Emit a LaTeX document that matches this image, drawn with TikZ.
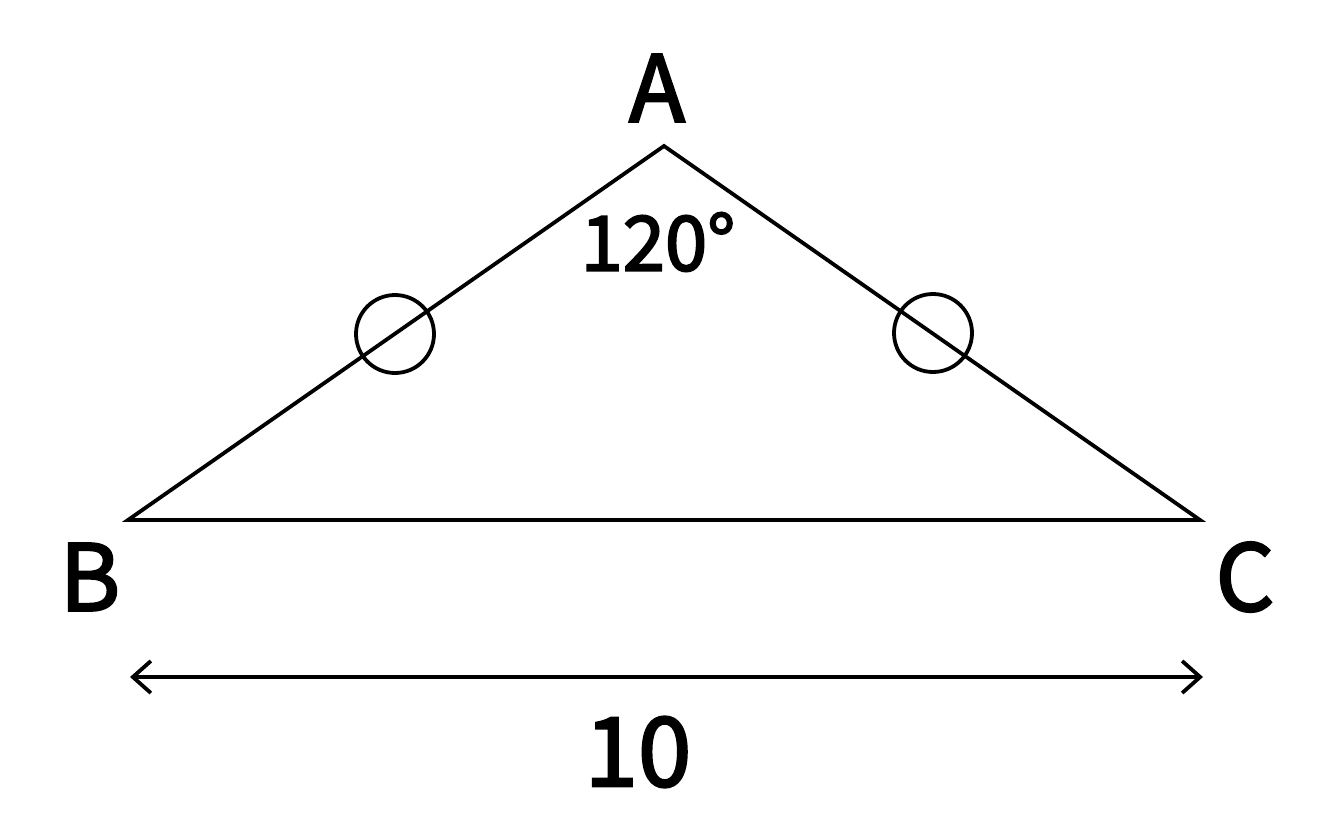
\documentclass[tikz,border=0pt]{standalone}
\usepackage{fontspec}
\newfontfamily\lblfont{Noto Sans CJK JP}[FakeBold=2.5]
\usetikzlibrary{arrows.meta}
\begin{document}
\begin{tikzpicture}[x=1pt,y=-1pt,
  edge/.style={line width=3.8pt},
  lbl/.style={inner sep=0pt, font=\lblfont\fontsize{92}{92}\selectfont},
  tick/.style={circle, draw, line width=3.8pt, minimum size=78pt, inner sep=0pt}]
\useasboundingbox (0,0) rectangle (1333,833);
\coordinate (A) at (664,146);
\coordinate (B) at (128,520);
\coordinate (C) at (1200,520);
\draw[edge] (B) -- (A) -- (C) -- cycle;
\node[tick] (t1) at (395,334) {};
\node[tick] (t2) at (933,333) {};
\node[lbl] (la) at (657,88) {A};
\node[lbl] (lb) at (90,577) {B};
\node[lbl] (lc) at (1245,577) {C};
\node[lbl, font=\lblfont\fontsize{76}{76}\selectfont] (ang) at (658,242) {120°};
\coordinate (d1) at (130,677);
\coordinate (d2) at (1203,677);
\draw[edge, {Straight Barb[length=18pt,width=32pt]}-{Straight Barb[length=18pt,width=32pt]}] (d1) -- (d2);
\node[lbl, font=\lblfont\fontsize{96}{96}\selectfont] (len) at (638,752) {10};
\end{tikzpicture}
\end{document}
